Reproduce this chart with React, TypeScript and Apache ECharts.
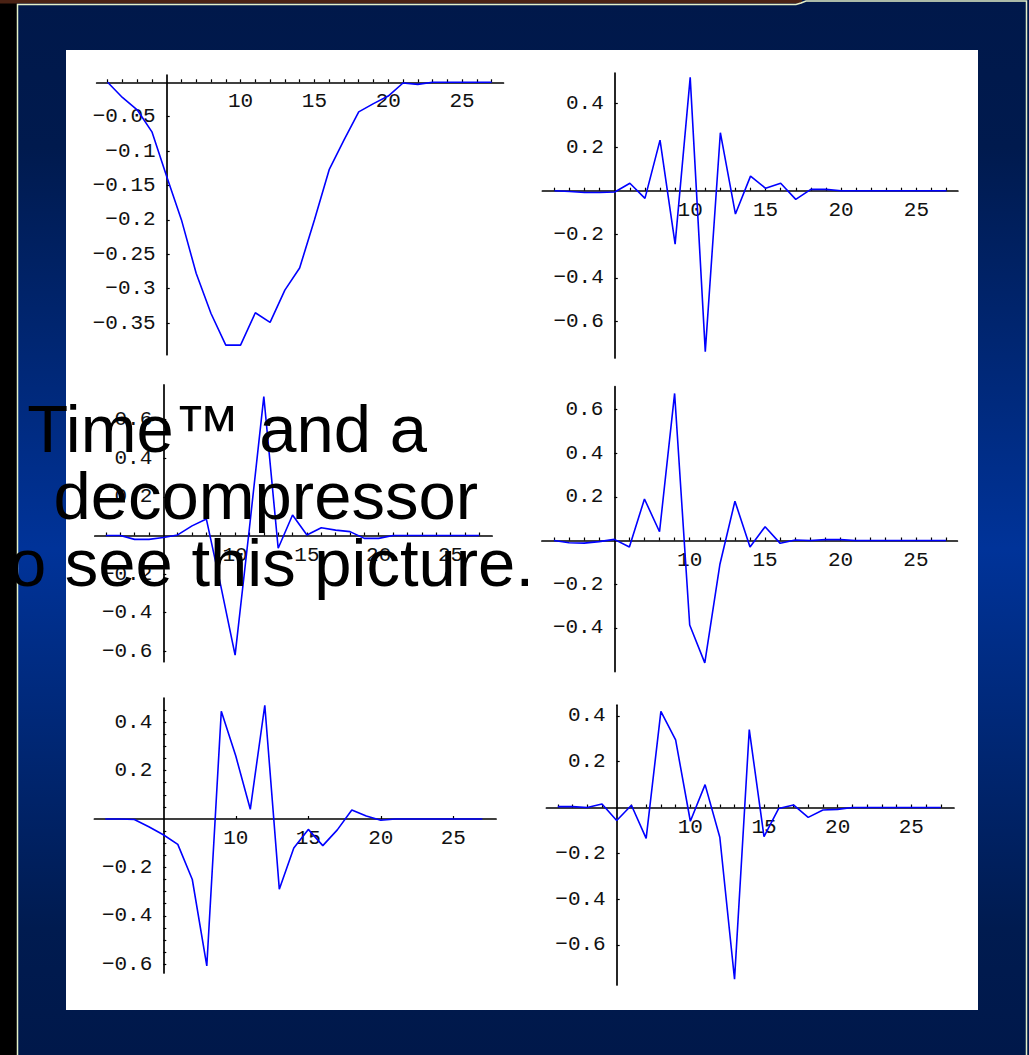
import React, { useEffect, useRef } from "react";
import * as echarts from "echarts";

// ---------- data ----------
const X_VALUES = [1, 2, 3, 4, 5, 6, 7, 8, 9, 10, 11, 12, 13, 14, 15, 16, 17, 18, 19, 20, 21, 22, 23, 24, 25, 26, 27];

const SERIES_1 = [0, -0.022, -0.04, -0.072, -0.137, -0.2, -0.278, -0.336, -0.382, -0.382, -0.335, -0.349, -0.302, -0.27, -0.2, -0.127, -0.084, -0.043, -0.031, -0.02, -0.001, -0.003, 0, 0, 0, 0, 0];
const SERIES_2 = [0, -0.004, -0.008, -0.008, -0.006, 0.034, -0.035, 0.232, -0.245, 0.52, -0.738, 0.266, -0.107, 0.067, 0.011, 0.034, -0.04, 0.006, 0.006, 0, 0, 0, 0, 0, 0, 0, 0];
const SERIES_3 = [0, 0, -0.02, -0.02, -0.01, 0.003, 0.05, 0.085, -0.26, -0.62, 0.04, 0.72, -0.066, 0.106, 0.003, 0.04, 0.028, 0.02, -0.015, -0.015, 0, 0, 0, 0, 0, 0, 0];
const SERIES_4 = [0, -0.01, -0.012, -0.005, 0.005, -0.03, 0.19, 0.04, 0.673, -0.387, -0.56, -0.11, 0.18, -0.03, 0.063, -0.013, 0.002, 0, 0.004, 0.004, 0, 0, 0, 0, 0, 0, 0];
const SERIES_5 = [0, 0, -0.002, -0.032, -0.065, -0.105, -0.25, -0.607, 0.445, 0.26, 0.04, 0.47, -0.29, -0.12, -0.043, -0.11, -0.045, 0.037, 0.012, -0.005, 0, 0, 0, 0, 0, 0, 0];
const SERIES_6 = [0.004, 0.004, 0, 0.015, -0.057, 0.01, -0.135, 0.42, 0.295, -0.06, 0.1, -0.13, -0.75, 0.34, -0.127, -0.004, 0.011, -0.043, -0.011, -0.008, 0, 0, 0, 0, 0, 0, 0];

const X_TICKS_FINE = [1, 2, 3, 4, 6, 7, 8, 9, 10, 11, 12, 13, 14, 15, 16, 17, 18, 19, 20, 21, 22, 23, 24, 25, 26, 27];
const X_TICKS_COARSE = [10, 15, 20, 25];
const X_LABELS = [10, 15, 20, 25];

const Y_LABELS_1 = [-0.35, -0.3, -0.25, -0.2, -0.15, -0.1, -0.05];
const Y_LABELS_2 = [-0.6, -0.4, -0.2, 0.2, 0.4];
const Y_LABELS_3 = [-0.6, -0.4, -0.2, 0.2, 0.4, 0.6];
const Y_LABELS_4 = [-0.4, -0.2, 0.2, 0.4, 0.6];
const Y_LABELS_5 = [-0.6, -0.4, -0.2, 0.2, 0.4];
const Y_LABELS_6 = [-0.6, -0.4, -0.2, 0.2, 0.4];
const Y_TICKS_5 = [-0.6, -0.55, -0.5, -0.45, -0.4, -0.35, -0.3, -0.25, -0.2, -0.15, -0.1, -0.05, 0.05, 0.1, 0.15, 0.2, 0.25, 0.3, 0.35, 0.4, 0.45];

// the visible parts of the placeholder message laid over the slide
const OVERLAY_LINES = ["Time™ and a", "decompressor", "o see this picture."];

// ---------- layout (pixels) ----------
const AXIS_X_AT = 5; // the vertical axis crosses the horizontal one at x = 5
const PANELS = [
  { data: SERIES_1, yLabels: Y_LABELS_1, yTicks: Y_LABELS_1, xTicks: X_TICKS_FINE, ox: 166.7, sx: 14.77, xmin: 0.26, xmax: 27.8, oy: 82.3, sy: 688, ymin: -0.396, ymax: 0.0106 },
  { data: SERIES_2, yLabels: Y_LABELS_2, yTicks: Y_LABELS_2, xTicks: X_TICKS_FINE, ox: 614.8, sx: 15.08, xmin: 0.2, xmax: 27.75, oy: 190.7, sy: 218, ymin: -0.767, ymax: 0.54 },
  { data: SERIES_3, yLabels: Y_LABELS_3, yTicks: Y_LABELS_3, xTicks: X_TICKS_FINE, ox: 163.3, sx: 14.36, xmin: 0.23, xmax: 27.9, oy: 535.5, sy: 193, ymin: -0.654, ymax: 0.78 },
  { data: SERIES_4, yLabels: Y_LABELS_4, yTicks: Y_LABELS_4, xTicks: X_TICKS_FINE, ox: 614.3, sx: 15.08, xmin: 0.2, xmax: 27.75, oy: 540.5, sy: 218.5, ymin: -0.6, ymax: 0.704 },
  { data: SERIES_5, yLabels: Y_LABELS_5, yTicks: Y_TICKS_5, xTicks: X_TICKS_COARSE, ox: 163.3, sx: 14.5, xmin: 0.25, xmax: 27.95, oy: 819, sy: 242, ymin: -0.636, ymax: 0.5 },
  { data: SERIES_6, yLabels: Y_LABELS_6, yTicks: Y_LABELS_6, xTicks: X_TICKS_FINE, ox: 616.7, sx: 14.73, xmin: 0.23, xmax: 27.9, oy: 807.5, sy: 229, ymin: -0.775, ymax: 0.447 },
];

const OVERLAY_RIGHT = [427, 478, 534];
const OVERLAY_BASELINE = [451, 518, 585];

const TICK_FONT = '"Liberation Mono", "Courier New", monospace';
const AXIS_COLOR = "#000";
const LINE_COLOR = "#0000ff";

function fmtY(v: number): string {
  const s = parseFloat(Number(v).toFixed(3)).toString();
  return s.replace("-", "\u2212");
}

export default function App() {
  const ref = useRef<HTMLDivElement>(null);

  useEffect(() => {
    if (!ref.current) return;
    const chart = echarts.init(ref.current, undefined, { renderer: "svg" });

    const grids: any[] = [];
    const xAxes: any[] = [];
    const yAxes: any[] = [];
    const series: any[] = [];

    PANELS.forEach((p, i) => {
      const left = p.ox + (p.xmin - AXIS_X_AT) * p.sx;
      const top = p.oy - p.ymax * p.sy;
      const width = (p.xmax - p.xmin) * p.sx;
      const height = (p.ymax - p.ymin) * p.sy;
      grids.push({ left, top, width, height, containLabel: false });
      xAxes.push({
        type: "value",
        gridIndex: i,
        position: "bottom",
        // move the axis up from the grid's bottom edge to y = 0
        offset: -(top + height - p.oy),
        min: p.xmin - AXIS_X_AT,
        max: p.xmax - AXIS_X_AT,
        axisLine: { show: true, onZero: false, lineStyle: { color: AXIS_COLOR, width: 1.7 } },
        axisTick: {
          show: true,
          inside: true,
          length: 3,
          customValues: p.xTicks.map((v) => v - AXIS_X_AT),
          lineStyle: { color: AXIS_COLOR, width: 1.2 },
        },
        axisLabel: {
          show: true,
          customValues: X_LABELS.map((v) => v - AXIS_X_AT),
          formatter: (v: number) => String(Math.round(v + AXIS_X_AT)),
          fontFamily: TICK_FONT,
          fontSize: 21,
          color: "#111",
          margin: 9,
        },
        splitLine: { show: false },
      });
      yAxes.push({
        type: "value",
        gridIndex: i,
        position: "left",
        // move the axis right from the grid's left edge to x = 5
        offset: -(p.ox - left),
        min: p.ymin,
        max: p.ymax,
        axisLine: { show: true, onZero: false, lineStyle: { color: AXIS_COLOR, width: 1.7 } },
        axisTick: {
          show: true,
          inside: true,
          length: 3,
          customValues: p.yTicks,
          lineStyle: { color: AXIS_COLOR, width: 1.2 },
        },
        axisLabel: {
          show: true,
          customValues: p.yLabels,
          formatter: (v: number) => fmtY(v),
          fontFamily: TICK_FONT,
          fontSize: 21,
          color: "#111",
          margin: 11,
        },
        splitLine: { show: false },
      });
      series.push({
        type: "line",
        xAxisIndex: i,
        yAxisIndex: i,
        data: X_VALUES.map((x, j) => [x - AXIS_X_AT, p.data[j]]),
        showSymbol: false,
        symbol: "none",
        lineStyle: { color: LINE_COLOR, width: 1.6 },
        z: 3,
      });
    });

    const graphics: any[] = [
      {
        type: "rect",
        z: -100,
        silent: true,
        shape: { x: 0, y: 0, width: 1029, height: 1055 },
        style: {
          fill: {
            type: "linear",
            x: 0,
            y: 0,
            x2: 0,
            y2: 1,
            colorStops: [
              { offset: 0, color: "#00184a" },
              { offset: 0.14, color: "#001a4e" },
              { offset: 0.52, color: "#003399" },
              { offset: 0.88, color: "#001b50" },
              { offset: 1, color: "#00184a" },
            ],
          },
        },
      },
      { type: "rect", z: -99, silent: true, shape: { x: 0, y: 0, width: 17, height: 1055 }, style: { fill: "#000" } },
      { type: "rect", z: -99, silent: true, shape: { x: 0, y: 0, width: 802, height: 3.5 }, style: { fill: "#4a2214" } },
      {
        type: "polyline",
        z: -98,
        silent: true,
        shape: { points: [[17.5, 1055], [17.5, 4.5], [796, 4.5], [801, 3], [806, 1], [1026.5, 1], [1026.5, 1055]] },
        style: { stroke: "#e4f0c8", lineWidth: 1.5, fill: null },
      },
      { type: "rect", z: -97, silent: true, shape: { x: 66, y: 50, width: 912, height: 960 }, style: { fill: "#fff" } },
    ];

    OVERLAY_LINES.forEach((t, i) => {
      graphics.push({
        type: "text",
        z: 100,
        silent: true,
        x: OVERLAY_RIGHT[i],
        y: OVERLAY_BASELINE[i] - 23,
        style: {
          text: t,
          fill: "#000",
          font: '67px "Liberation Sans", Arial, sans-serif',
          textAlign: "right",
          align: "right",
          textVerticalAlign: "middle",
          verticalAlign: "middle",
        },
      });
    });

    chart.setOption({
      animation: false,
      backgroundColor: "#00184a",
      grid: grids,
      xAxis: xAxes,
      yAxis: yAxes,
      series,
      graphic: { elements: graphics },
    });

    return () => chart.dispose();
  }, []);

  return (
    <div
      ref={ref}
      style={{ position: "absolute", left: 0, top: 0, width: 1029, height: 1055 }}
    />
  );
}
